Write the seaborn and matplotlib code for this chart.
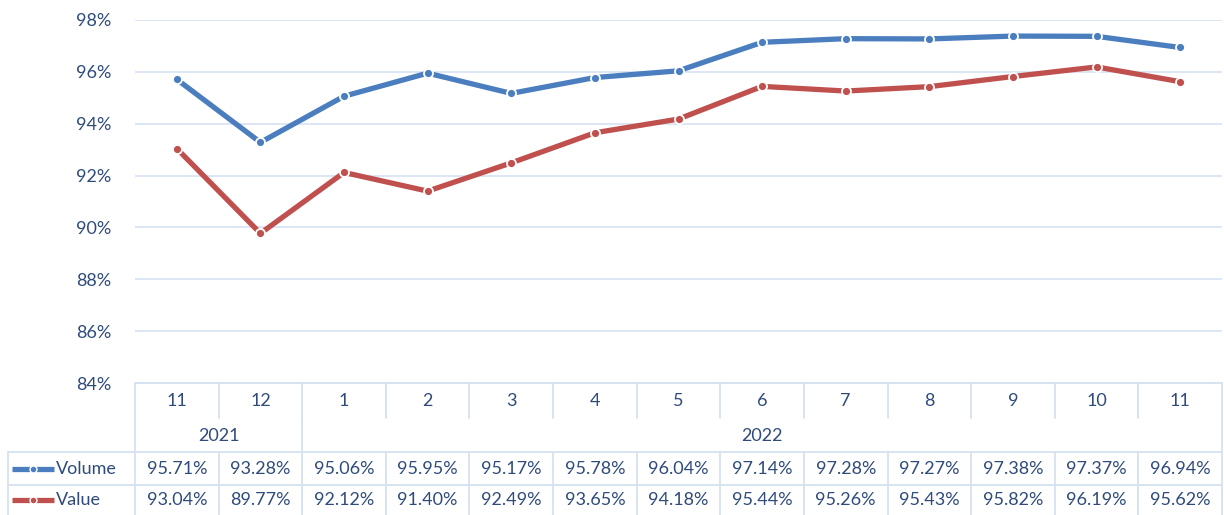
import matplotlib
matplotlib.use("Agg")
import matplotlib.pyplot as plt
import seaborn as sns
import pandas as pd
import numpy as np
from matplotlib.lines import Line2D

months = ["11", "12", "1", "2", "3", "4", "5", "6", "7", "8", "9", "10", "11"]
years = ["2021", "2021", "2022", "2022", "2022", "2022", "2022", "2022", "2022", "2022", "2022", "2022", "2022"]
volume = [95.71, 93.28, 95.06, 95.95, 95.17, 95.78, 96.04, 97.14, 97.28, 97.27, 97.38, 97.37, 96.94]
value = [93.04, 89.77, 92.12, 91.40, 92.49, 93.65, 94.18, 95.44, 95.26, 95.43, 95.82, 96.19, 95.62]
series_names = ["Volume", "Value"]
yticks = [84, 86, 88, 90, 92, 94, 96, 98]

sns.set_theme(style="white")
plt.rcParams["font.family"] = ["Lato", "DejaVu Sans"]

TXT = "#2F4B7C"
GRID = "#D6E2F2"
BLUE = "#4A7EBF"
RED = "#C0504D"
colors = [BLUE, RED]

W, H = 1224, 515
fig = plt.figure(figsize=(W / 100, H / 100), dpi=100)
L, R, T, B = 135, 1222, 20, 383
ax = fig.add_axes([L / W, 1 - B / H, (R - L) / W, (B - T) / H])

n = len(months)
df = pd.DataFrame({
    "idx": list(range(n)) * 2,
    "pct": volume + value,
    "series": ["Volume"] * n + ["Value"] * n,
})
sns.lineplot(data=df, x="idx", y="pct", hue="series", palette=dict(zip(series_names, colors)),
             marker="o", markersize=6.5, markeredgecolor="white", markeredgewidth=1.3,
             linewidth=3.8, legend=False, ax=ax, zorder=3)

ax.set_xlim(-0.5, n - 0.5)
ax.set_ylim(84, 98)
ax.set_yticks(yticks)
ax.set_yticklabels([f"{t}%" for t in yticks], color=TXT, fontsize=13)
ax.tick_params(axis="y", length=0, pad=17)
ax.set_xticks([])
ax.set_xlabel("")
ax.set_ylabel("")
for s in ax.spines.values():
    s.set_visible(False)
ax.grid(axis="y", color=GRID, linewidth=1.2)
ax.set_axisbelow(True)

def fx(px):
    return px / W

def fy(py):
    return 1 - py / H

lk = dict(color=GRID, linewidth=1.3, transform=fig.transFigure, clip_on=False)
col_w = (R - L) / n
col_edges = [L + i * col_w for i in range(n + 1)]
row_month = (383, 420)
row_year = (420, 452)
row_vol = (452, 485)
row_val = (485, 515)

fig.add_artist(Line2D([fx(L), fx(R)], [fy(383), fy(383)], **lk))
fig.add_artist(Line2D([fx(8), fx(R)], [fy(452), fy(452)], **lk))
fig.add_artist(Line2D([fx(8), fx(R)], [fy(485), fy(485)], **lk))
fig.add_artist(Line2D([fx(8), fx(8)], [fy(452), fy(515)], **lk))
for i, xe in enumerate(col_edges):
    if i == 0 or i == n:
        fig.add_artist(Line2D([fx(xe), fx(xe)], [fy(383), fy(515)], **lk))
    else:
        fig.add_artist(Line2D([fx(xe), fx(xe)], [fy(383), fy(418)], **lk))
        fig.add_artist(Line2D([fx(xe), fx(xe)], [fy(452), fy(515)], **lk))
        if years[i] != years[i - 1]:
            fig.add_artist(Line2D([fx(xe), fx(xe)], [fy(418), fy(452)], **lk))

fs = 13
for i in range(n):
    cx = L + (i + 0.5) * col_w
    fig.text(fx(cx), fy(sum(row_month) / 2), months[i], ha="center", va="center", color=TXT, fontsize=fs)
    fig.text(fx(cx), fy(sum(row_vol) / 2), f"{volume[i]:.2f}%", ha="center", va="center", color=TXT, fontsize=fs)
    fig.text(fx(cx), fy(sum(row_val) / 2), f"{value[i]:.2f}%", ha="center", va="center", color=TXT, fontsize=fs)

groups = []
start = 0
for i in range(1, n + 1):
    if i == n or years[i] != years[start]:
        groups.append((years[start], start, i))
        start = i
for yname, a, b in groups:
    cx = L + (a + b) / 2 * col_w
    fig.text(fx(cx), fy(sum(row_year) / 2), yname, ha="center", va="center", color=TXT, fontsize=fs)

for name, c, row in zip(series_names, colors, [row_vol, row_val]):
    yc = fy(sum(row) / 2)
    fig.add_artist(Line2D([fx(12), fx(54)], [yc, yc], color=c, linewidth=3.8,
                          transform=fig.transFigure, solid_capstyle="butt"))
    fig.add_artist(Line2D([fx(33)], [yc], color=c, marker="o", markersize=5,
                          markeredgecolor="white", markeredgewidth=1, transform=fig.transFigure))
    fig.text(fx(56), yc, name, ha="left", va="center", color=TXT, fontsize=fs)

fig.savefig("out.png", dpi=100, facecolor="white")
